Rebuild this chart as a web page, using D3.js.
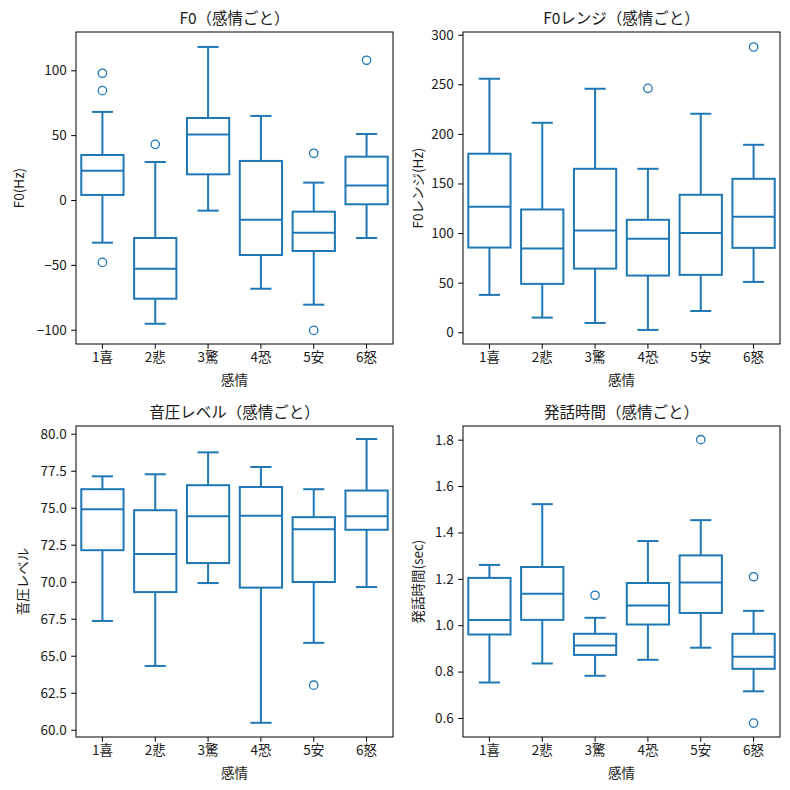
<!DOCTYPE html>
<html>
<head>
<meta charset="utf-8">
<script src="https://cdn.jsdelivr.net/npm/d3@7"></script>
<style>
  body { margin: 0; background: #fff; }
  svg text { font-family: "Noto Sans CJK JP", "DejaVu Sans", sans-serif; fill: #1a1a1a; }
</style>
</head>
<body>
<div id="chart"></div>
<script>
// categories (x axis)
const emotions = ["1喜", "2悲", "3驚", "4恐", "5安", "6怒"];

// box stats per emotion: [whiskerLow, q1, median, q3, whiskerHigh]
const f0Stats = [
  [-32.9, 3.9, 22.6, 34.7, 67.9],
  [-95.4, -76.1, -53.0, -29.3, 29.3],
  [-8.2, 19.8, 50.4, 63.2, 118.0],
  [-68.4, -42.4, -15.2, 30.1, 64.8],
  [-80.7, -39.3, -25.2, -9.0, 13.4],
  [-29.3, -3.3, 11.1, 33.4, 50.9]
];
const f0Outliers = [[97.7, 84.3, -48.1], [42.9], [], [], [36.0, -100.5], [107.7]];

const rangeStats = [
  [37.7, 85.4, 126.5, 180.0, 255.6],
  [14.8, 48.8, 84.4, 123.8, 211.2],
  [9.4, 64.2, 102.6, 164.8, 245.5],
  [2.4, 57.2, 94.2, 113.4, 164.8],
  [21.5, 57.9, 100.2, 138.6, 220.3],
  [50.8, 85.1, 116.4, 154.7, 189.0]
];
const rangeOutliers = [[], [], [], [245.9], [], [287.6]];

const levelStats = [
  [67.35, 72.13, 74.9, 76.25, 77.12],
  [64.31, 69.3, 71.87, 74.83, 77.26],
  [69.91, 71.26, 74.43, 76.52, 78.74],
  [60.47, 69.6, 74.45, 76.4, 77.75],
  [65.87, 69.98, 73.55, 74.36, 76.25],
  [69.64, 73.51, 74.43, 76.16, 79.64]
];
const levelOutliers = [[], [], [], [], [63.01], []];

const durStats = [
  [0.753, 0.960, 1.023, 1.204, 1.260],
  [0.835, 1.023, 1.136, 1.251, 1.522],
  [0.782, 0.872, 0.913, 0.963, 1.032],
  [0.851, 1.003, 1.085, 1.182, 1.363],
  [0.903, 1.053, 1.184, 1.301, 1.453],
  [0.715, 0.812, 0.864, 0.963, 1.062]
];
const durOutliers = [[], [], [1.129], [], [1.8], [1.209, 0.578]];

const color = "#1f77b4";
const tickFont = 13.5;

const svg = d3.select("#chart").append("svg")
    .attr("width", 790)
    .attr("height", 790);

// each panel: axes rectangle in pixels, y domain, ticks
const panels = [
  {title: "F0（感情ごと）", ylabel: "F0(Hz)", stats: f0Stats, outliers: f0Outliers,
   x0: 76, y0: 32, w: 317, h: 312, domain: [-111, 129.5],
   ticks: [-100, -50, 0, 50, 100], fmt: d3.format("d"), ylabelX: 18},
  {title: "F0レンジ（感情ごと）", ylabel: "F0レンジ(Hz)", stats: rangeStats, outliers: rangeOutliers,
   x0: 463, y0: 32, w: 317, h: 312, domain: [-11.8, 302.7],
   ticks: [0, 50, 100, 150, 200, 250, 300], fmt: d3.format("d"), ylabelX: 417},
  {title: "音圧レベル（感情ごと）", ylabel: "音圧レベル", stats: levelStats, outliers: levelOutliers,
   x0: 76, y0: 426, w: 317, h: 311, domain: [59.51, 80.52],
   ticks: [60, 62.5, 65, 67.5, 70, 72.5, 75, 77.5, 80], fmt: d3.format(".1f"), ylabelX: 22},
  {title: "発話時間（感情ごと）", ylabel: "発話時間(sec)", stats: durStats, outliers: durOutliers,
   x0: 463, y0: 426, w: 317, h: 311, domain: [0.518, 1.859],
   ticks: [0.6, 0.8, 1.0, 1.2, 1.4, 1.6, 1.8], fmt: d3.format(".1f"), ylabelX: 417}
];

panels.forEach(p => {
  const g = svg.append("g").attr("transform", "translate(" + p.x0 + "," + p.y0 + ")");

  const xScale = d3.scaleBand().domain(emotions).range([0, p.w]).padding(0);
  const yScale = d3.scaleLinear().domain(p.domain).range([p.h, 0]);
  const boxW = xScale.bandwidth() * 0.8;
  const capW = boxW / 2;

  // axes
  const xAxis = g.append("g")
      .attr("transform", "translate(0," + p.h + ")")
      .call(d3.axisBottom(xScale).tickSizeOuter(0).tickSize(4.8).tickPadding(4));
  const yAxis = g.append("g")
      .call(d3.axisLeft(yScale).tickValues(p.ticks).tickFormat(d => p.fmt(d).replace("-", "−"))
        .tickSizeOuter(0).tickSize(4.8).tickPadding(4.5));
  [xAxis, yAxis].forEach(a => {
    a.select(".domain").remove();
    a.selectAll("line").attr("stroke", "#000").attr("stroke-width", 1);
    a.selectAll("text").attr("font-size", tickFont).attr("fill", "#1a1a1a");
  });

  // boxes
  const boxes = g.selectAll(".boxG")
      .data(p.stats.map((s, i) => ({cat: emotions[i], s: s, out: p.outliers[i]})))
      .join("g")
      .attr("class", "boxG")
      .attr("transform", d => "translate(" + (xScale(d.cat) + xScale.bandwidth() / 2) + ",0)");

  const line = (sel, x1, y1, x2, y2) => sel.append("line")
      .attr("x1", x1).attr("y1", y1).attr("x2", x2).attr("y2", y2)
      .attr("stroke", color).attr("stroke-width", 2);

  boxes.each(function(d) {
    const b = d3.select(this);
    const [lo, q1, med, q3, hi] = d.s;
    line(b, 0, yScale(hi), 0, yScale(q3));
    line(b, 0, yScale(q1), 0, yScale(lo));
    line(b, -capW / 2, yScale(hi), capW / 2, yScale(hi));
    line(b, -capW / 2, yScale(lo), capW / 2, yScale(lo));
    b.append("rect")
        .attr("x", -boxW / 2).attr("width", boxW)
        .attr("y", yScale(q3)).attr("height", yScale(q1) - yScale(q3))
        .attr("fill", "none").attr("stroke", color).attr("stroke-width", 2);
    line(b, -boxW / 2, yScale(med), boxW / 2, yScale(med));
    b.selectAll(".flier")
        .data(d.out)
        .join("circle")
        .attr("class", "flier")
        .attr("cx", 0).attr("cy", v => yScale(v)).attr("r", 4.2)
        .attr("fill", "none").attr("stroke", color).attr("stroke-width", 1.3);
  });

  // frame
  g.append("rect")
      .attr("width", p.w).attr("height", p.h)
      .attr("fill", "none").attr("stroke", "#000").attr("stroke-width", 1);

  // title & labels
  g.append("text")
      .attr("x", p.w / 2).attr("y", -8.5)
      .attr("text-anchor", "middle").attr("font-size", 15.5)
      .text(p.title);
  g.append("text")
      .attr("x", p.w / 2).attr("y", p.h + 40.5)
      .attr("text-anchor", "middle").attr("font-size", tickFont)
      .text("感情");
  svg.append("text")
      .attr("transform", "translate(" + p.ylabelX + "," + (p.y0 + p.h / 2) + ") rotate(-90)")
      .attr("text-anchor", "middle").attr("dominant-baseline", "central").attr("font-size", tickFont)
      .text(p.ylabel);
});
</script>
</body>
</html>
